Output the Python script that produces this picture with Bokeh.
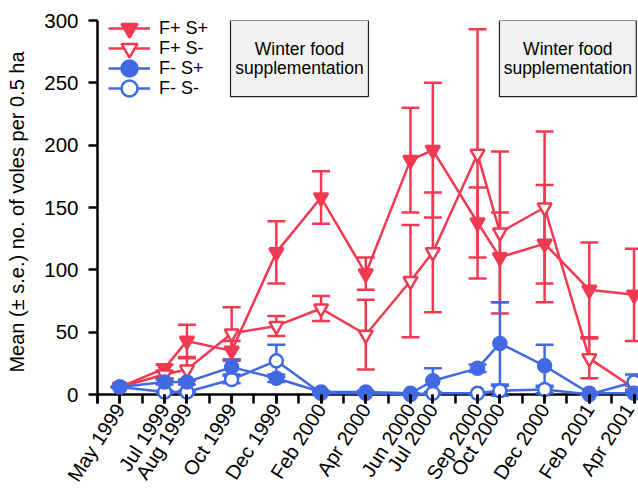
from bokeh.plotting import figure
from bokeh.models import (ColumnDataSource, Range1d, FixedTicker, Whisker, TeeHead,
                          BoxAnnotation, Label, Span, Legend, LegendItem)
from bokeh.embed import file_html
from bokeh.resources import INLINE

# ---------------- data ----------------
dates = ["May 1999", "Jul 1999", "Aug 1999", "Oct 1999", "Dec 1999", "Feb 2000",
         "Apr 2000", "Jun 2000", "Jul 2000", "Sep 2000", "Oct 2000", "Dec 2000",
         "Feb 2001", "Apr 2001"]

fps_mean = [6, 21, 43, 35, 114, 158, 97, 188, 196, 138, 110, 121, 84, 80]
fps_se = [0, 3, 13, 8, 25, 21, 13, 42, 54, 28, 36, 47, 38, 37]

fpsm_mean = [6, 16, 20, 49, 55, 69, 48, 91, 114, 193, 130, 150, 29, 5]
fpsm_se = [0, 3, 9, 21, 8, 10, 28, 45, 48, 100, 65, 61, 16, 2]

fmsp_mean = [6, 10, 10, 22, 13, 2, 2, 1, 11, 21, 41, 23, 1, 1]
fmsp_se = [0, 2, 2, 6, 3, 1, 1, 0, 10, 3, 33, 17, 0, 0]

fmsm_mean = [6, 2, 2, 12, 27, 1, 1, 0, 1, 1, 3, 4, 0, 10]
fmsm_se = [0, 1, 1, 3, 13, 0, 0, 0, 1, 0, 4, 3, 0, 6]

y_ticks = [0, 50, 100, 150, 200, 250, 300]
box_text = ["Winter food", "supplementation"]

MONTHS = {"Jan": 1, "Feb": 2, "Mar": 3, "Apr": 4, "May": 5, "Jun": 6, "Jul": 7,
          "Aug": 8, "Sep": 9, "Oct": 10, "Nov": 11, "Dec": 12}


def month_index(label):
    m, y = label.split()
    return (int(y) - 1999) * 12 + MONTHS[m] - 4   # months since Apr 1999


x = [month_index(d) for d in dates]

RED = "#F03A52"
BLUE = "#4169E1"
FONT = "Liberation Sans"

FRAME_H = 383
p = figure(frame_width=541, frame_height=FRAME_H, output_backend="svg",
           toolbar_location=None,
           x_range=Range1d(0, 24.2), y_range=Range1d(-7.2, 300),
           min_border_left=97, min_border_right=0, min_border_top=20,
           min_border_bottom=60)
p.outline_line_color = None
p.grid.visible = False
p.background_fill_color = "white"
p.border_fill_color = "white"

# x axis (line drawn as span at y=0)
xa = p.xaxis[0]
xa.ticker = FixedTicker(ticks=x, minor_ticks=list(range(0, 25)))
xa.major_label_overrides = {xi: d for xi, d in zip(x, dates)}
xa.major_label_orientation = 1.0
xa.axis_line_color = None
xa.major_tick_in = 9
xa.major_tick_out = 0
xa.minor_tick_in = 9
xa.minor_tick_out = 0
xa.major_tick_line_width = 2.5
xa.minor_tick_line_width = 2.5
xa.major_tick_line_color = "black"
xa.minor_tick_line_color = "black"
xa.major_label_text_font = FONT
xa.major_label_text_font_size = "20px"
xa.major_label_text_color = "black"
xa.major_label_standoff = 2

p.add_layout(Span(location=0, dimension="width", line_color="black",
                  line_width=2.5, level="underlay"))

ya = p.yaxis[0]
ya.ticker = FixedTicker(ticks=y_ticks)
ya.minor_tick_line_color = None
ya.axis_line_width = 2.5
ya.axis_line_color = "black"
ya.major_tick_line_width = 2.5
ya.major_tick_line_color = "black"
ya.major_tick_in = 0
ya.major_tick_out = 9
ya.major_label_text_font = FONT
ya.major_label_text_font_size = "20.5px"
ya.major_label_text_color = "black"
ya.major_label_standoff = 10
ya.axis_label = "Mean (± s.e.) no. of voles per 0.5 ha"
ya.axis_label_text_font = FONT
ya.axis_label_text_font_style = "normal"
ya.axis_label_text_font_size = "20px"
ya.axis_label_text_color = "black"
ya.axis_label_standoff = 13

# ---------------- series ----------------
series = [
    ("F+ S+", fps_mean, fps_se, RED, "inverted_triangle", True),
    ("F+ S-", fpsm_mean, fpsm_se, RED, "inverted_triangle", False),
    ("F- S-", fmsm_mean, fmsm_se, BLUE, "circle", False),
    ("F- S+", fmsp_mean, fmsp_se, BLUE, "circle", True),
]
legend_order = ["F+ S+", "F+ S-", "F- S+", "F- S-"]

rends = {}
for name, mean, se, color, marker, filled in series:
    src = ColumnDataSource(dict(x=x, y=mean,
                                upper=[m + s for m, s in zip(mean, se)],
                                lower=[m - s for m, s in zip(mean, se)]))
    p.add_layout(Whisker(source=src, base="x", upper="upper", lower="lower",
                         dimension="height", line_color=color, line_width=2.5,
                         upper_head=TeeHead(size=18, line_color=color, line_width=2.5),
                         lower_head=TeeHead(size=18, line_color=color, line_width=2.5)))
    r1 = p.line("x", "y", source=src, line_color=color, line_width=2.5)
    size = 14 if marker == "inverted_triangle" else 13
    r2 = p.scatter("x", "y", source=src, marker=marker, size=size,
                   line_color=color, line_width=2.5,
                   fill_color=color if filled else "white")
    rends[name] = [r1, r2]

# one legend per entry so that markers can be large while rows stay 20px apart
for i, n in enumerate(legend_order):
    lg = Legend(items=[LegendItem(label=n, renderers=rends[n])],
                location=(11, FRAME_H - 28 - 20 * i), orientation="vertical",
                glyph_width=42, glyph_height=40, label_height=40, spacing=0,
                padding=0, margin=0, label_standoff=9,
                background_fill_alpha=0, border_line_color=None,
                label_text_font=FONT, label_text_font_size="18px",
                label_text_color="black")
    p.add_layout(lg)

# ---------------- winter boxes ----------------
boxes = [(5.95, 12.12), (17.98, 24.1)]
for left, right in boxes:
    p.add_layout(BoxAnnotation(left=left, right=right, bottom=239, top=300,
                               fill_color="#F2F2F2", fill_alpha=1,
                               line_color="#222222", line_width=1.2, line_alpha=1))
    cx = (left + right) / 2
    for txt, ty in zip(box_text, [277.5, 261.5]):
        p.add_layout(Label(x=cx, y=ty, text=txt, text_align="center",
                           text_baseline="middle", text_font=FONT,
                           text_font_size="17.5px", text_color="black"))

open("out.html", "w").write(file_html(p, INLINE))
